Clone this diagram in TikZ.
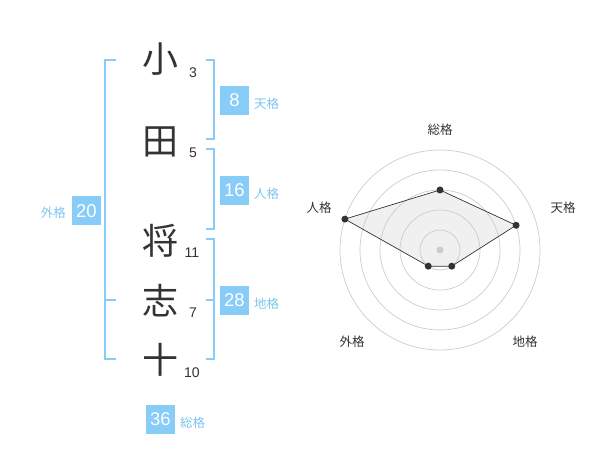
\documentclass[tikz,border=0pt]{standalone}
\usepackage{fontspec}
\setmainfont{Noto Sans CJK JP}
\newfontfamily\numfont{Liberation Sans}
\definecolor{ink}{HTML}{333333}
\definecolor{kaku}{HTML}{88CCF8}
\definecolor{kakutext}{HTML}{7EC4F0}
\definecolor{ring}{HTML}{CCCCCC}
\definecolor{area}{HTML}{F0F0F0}

\begin{document}
\begin{tikzpicture}[x=1pt,y=-1pt,
	kanji/.style={text=ink,inner sep=0pt,font=\fontsize{36}{36}\selectfont},
	kazu/.style={text=ink,inner sep=0pt,font=\numfont\fontsize{14}{14}\selectfont},
	hako/.style={fill=kaku,text=white,minimum size=29pt,inner sep=0pt,font=\numfont\fontsize{18.5}{18.5}\selectfont},
	mei/.style={text=kakutext,inner sep=0pt,font=\fontsize{12.5}{12.5}\selectfont},
	kakko/.style={draw=kaku,line width=2pt},
	jiku/.style={text=ink,inner sep=0pt,font=\fontsize{12.5}{12.5}\selectfont},
	pt/.style={shape=circle,fill=ink,minimum size=7pt,inner sep=0pt}]
	\useasboundingbox (0,0) rectangle (600,470);

	% name
	\node[kanji] (a) at (160, 59)     {小};
	\node[kanji] (b) at (160, 142)    {田};
	\node[kanji] (c) at (160, 241)    {将};
	\node[kanji] (d) at (160, 301)    {志};
	\node[kanji] (e) at (160, 360)    {十};
	\node[kazu] (na) at (193, 73)     {3};
	\node[kazu] (nb) at (193, 153)    {5};
	\node[kazu] (nc) at (192, 253)    {11};
	\node[kazu] (nd) at (193, 313)    {7};
	\node[kazu] (ne) at (192, 373)    {10};

	% brackets
	\draw[kakko] (116, 60) -- (105, 60) -- (105, 359) -- (116, 359);
	\draw[kakko] (105, 300) -- (116, 300);
	\draw[kakko] (206, 60) -- (214, 60) -- (214, 139) -- (206, 139);
	\draw[kakko] (206, 149) -- (214, 149) -- (214, 229) -- (206, 229);
	\draw[kakko] (206, 239) -- (214, 239) -- (214, 359) -- (206, 359);
	\draw[kakko] (206, 300) -- (214, 300);

	% scores
	\node[hako] (ten) at (234.5, 100.5)  {8};
	\node[hako] (jin) at (234.5, 190.5)  {16};
	\node[hako] (chi) at (234.5, 300.5)  {28};
	\node[hako] (gai) at (86.5, 211)     {20};
	\node[hako] (sou) at (160.5, 419)    {36};
	\node[mei,anchor=west] at (254, 104)  {天格};
	\node[mei,anchor=west] at (254, 194)  {人格};
	\node[mei,anchor=west] at (254, 304)  {地格};
	\node[mei,anchor=east] at (66, 213)   {外格};
	\node[mei,anchor=west] at (180, 423)  {総格};

	% radar
	\begin{scope}[shift={(440,250)}]
		\coordinate (p) at (-90:60);
		\coordinate (q) at (-18:80);
		\coordinate (r) at (54:20);
		\coordinate (s) at (126:20);
		\coordinate (t) at (198:100);
		\fill[area] (p) -- (q) -- (r) -- (s) -- (t) -- cycle;
		\foreach \rr in {20,40,60,80,100}
			\draw[ring,line width=0.7pt] (0,0) circle (\rr);
		\fill[ring] (0,0) circle (3.5);
		\draw[ink,line width=0.7pt] (p) -- (q) -- (r) -- (s) -- (t) -- cycle;
		\foreach \v in {p,q,r,s,t}
			\node[pt] at (\v) {};
	\end{scope}
	\node[jiku] (u) at (440, 130)  {総格};
	\node[jiku] (v) at (563, 208)  {天格};
	\node[jiku] (w) at (319, 208)  {人格};
	\node[jiku] (x) at (352, 342)  {外格};
	\node[jiku] (y) at (525, 342)  {地格};
\end{tikzpicture}
\end{document}
